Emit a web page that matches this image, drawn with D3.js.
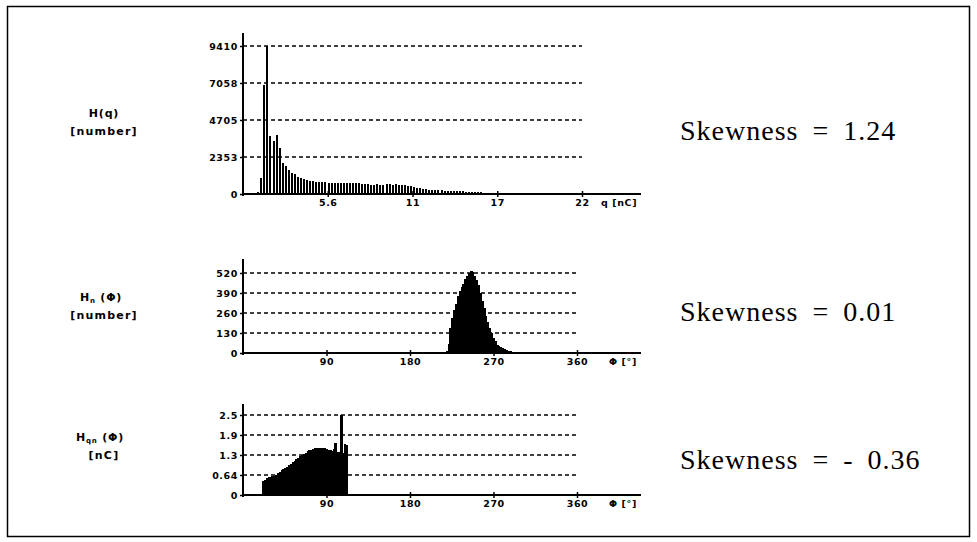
<!DOCTYPE html>
<html><head><meta charset="utf-8">
<script src="https://cdn.jsdelivr.net/npm/d3@7/dist/d3.min.js"></script>
<style>body{margin:0;background:#fff}svg{display:block}</style></head>
<body><svg id="c" width="977" height="542"></svg>
<script>
// ---- data ----
const qBinStart = 1.0, qBinStep = 0.2;
const qCounts = [120,1000,6900,9410,3700,3350,3750,2900,1950,1750,1500,1350,1250,1100,1000,950,880,850,800,780,
  760,750,740,700,690,720,700,680,700,690,710,700,720,690,650,640,620,600,580,610,
  600,590,620,640,600,620,580,600,560,540,480,440,400,360,330,300,280,260,250,240,
  230,220,210,200,190,180,170,160,150,140,130,120,110,100,90,80,70,60,50,40,
  30,25,20,15,12,10,10,8,8,6,6,5,5,4,4,3];
const qTickValues = [5.55,11.1,16.65,22.2];
const qTickLabels = ["5.6","11","17","22"];
const qYTickValues = [0,2352.5,4705,7057.5,9410];
const qYTickLabels = ["0","2353","4705","7058","9410"];

const nPhiBins = [218,220,222,224,226,228,230,232,234,236,238,240,242,244,246,248,250,252,254,256,258,260,262,264,266,268,270,272,274,276,278,280,282,284,286,288,290,292,294];
const nPhiCounts = [2,10,60,160,230,280,320,370,400,430,450,480,500,520,535,525,500,475,440,390,340,290,240,200,160,130,100,75,55,45,38,32,25,18,14,10,6,4,2];
const nYTickValues = [0,130,260,390,520];
const nYTickLabels = ["0","130","260","390","520"];

const qnPhiBins = [22,24,26,28,30,32,34,36,38,40,42,44,46,48,50,52,54,56,58,60,62,64,66,68,70,72,74,76,78,80,82,84,86,88,90,92,94,96,98,100,102,104,106,108,110,112];
const qnPhiValues = [0.45,0.48,0.52,0.55,0.57,0.58,0.59,0.63,0.68,0.73,0.77,0.81,0.85,0.89,0.93,0.97,1.02,1.07,1.12,1.17,1.21,1.25,1.28,1.32,1.36,1.40,1.42,1.44,1.46,1.47,1.48,1.48,1.47,1.46,1.44,1.42,1.40,1.38,1.45,1.62,1.35,1.33,2.5,1.32,1.58,1.55];
const qnYTickValues = [0,0.625,1.25,1.875,2.5];
const qnYTickLabels = ["0","0.64","1.3","1.9","2.5"];

const phiTickValues = [90,180,270,360];
const phiTickLabels = ["90","180","270","360"];
const skewValues = ["1.24","0.01","- 0.36"];

// ---- drawing ----
const svg = d3.select("#c");
svg.append("rect").attr("x",7.5).attr("y",6.5).attr("width",962).attr("height",530)
  .attr("fill","none").attr("stroke","#000").attr("stroke-width",1.5);

const tickFont = "bold 9.5px 'DejaVu Sans'";

function panel(o){
  const g = svg.append("g");
  const x = d3.scaleLinear().domain(o.xDomain).range([243, o.gridEnd]);
  const y = d3.scaleLinear().domain(o.yDomain).range([o.base, o.top]);
  // gridlines
  g.selectAll("line.grid").data(o.yTicks.slice(1)).join("line")
    .attr("x1",243).attr("x2",o.gridEnd).attr("y1",d=>y(d)).attr("y2",d=>y(d))
    .attr("stroke","#000").attr("stroke-width",1.5).attr("stroke-dasharray","4,3");
  // marks
  const bw = o.fill ? (x(o.bins[1])-x(o.bins[0]))+0.8 : o.barW;
  g.append("g").attr("shape-rendering","crispEdges").selectAll("rect").data(o.bins).join("rect")
    .attr("x",(d,i)=>x(d)-bw/2).attr("width",bw)
    .attr("y",(d,i)=>y(o.values[i])).attr("height",(d,i)=>o.base-y(o.values[i]))
    .attr("fill","#000");
  // y axis
  const ya = g.append("g").attr("transform","translate(243,0)")
    .call(d3.axisLeft(y).tickValues(o.yTicks).tickFormat((d,i)=>o.yLabels[i]).tickSize(3).tickPadding(2));
  ya.select(".domain").remove();
  ya.selectAll("text").style("font",tickFont).attr("fill","#000").attr("letter-spacing","0.6px");
  ya.selectAll("line").attr("stroke-width",1.5);
  g.append("line").attr("x1",243).attr("x2",243).attr("y1",o.axisTop).attr("y2",o.base+2)
    .attr("stroke","#000").attr("stroke-width",2);
  // x axis
  g.append("line").attr("x1",242).attr("x2",641).attr("y1",o.base).attr("y2",o.base)
    .attr("stroke","#000").attr("stroke-width",2);
  const xa = g.append("g").attr("transform",`translate(0,${o.base-3})`)
    .call(d3.axisBottom(x).tickValues(o.xTicks).tickFormat((d,i)=>o.xLabels[i]).tickSize(6).tickPadding(2));
  xa.select(".domain").remove();
  xa.selectAll("line").attr("stroke-width",1.5);
  xa.selectAll("text").style("font",tickFont).attr("fill","#000").attr("letter-spacing","0.6px");
  g.append("text").attr("x",o.unitX).attr("y",o.base+12).style("font",tickFont)
    .attr("letter-spacing","0.6px").text(o.unit);
  // left label
  const l1 = g.append("text").attr("x",o.labelX).attr("y",o.labelY).attr("text-anchor","middle")
    .style("font","bold 11px 'DejaVu Sans'").attr("letter-spacing","0.8px");
  l1.append("tspan").text("H");
  if(o.sub){ l1.append("tspan").attr("font-size","7px").attr("dy",2).text(o.sub);
    l1.append("tspan").attr("dy",-2).text("  (Φ)"); }
  else l1.append("tspan").text("(q)");
  g.append("text").attr("x",o.label2X).attr("y",o.labelY+18).attr("text-anchor","middle")
    .style("font","bold 11px 'DejaVu Sans'").attr("letter-spacing","1.2px").text(o.label2);
  // skewness
  g.append("text").attr("x",680).attr("y",o.skewY)
    .style("font","28px 'Liberation Serif'").attr("letter-spacing","1px").attr("word-spacing","6px")
    .text("Skewness = " + o.skew);
}

panel({xDomain:[0,22.2], gridEnd:582, yDomain:[0,9410], base:194, top:46, axisTop:33,
  yTicks:qYTickValues, yLabels:qYTickLabels, xTicks:qTickValues, xLabels:qTickLabels,
  bins:d3.range(qCounts.length).map(i=>qBinStart+i*qBinStep), values:qCounts, barW:2,
  unit:"q [nC]", unitX:601, labelX:104, labelY:117, label2:"[number]", label2X:104, skewY:140, skew:skewValues[0]});

panel({xDomain:[0,360], gridEnd:577, yDomain:[0,520], base:353, top:273, axisTop:259,
  yTicks:nYTickValues, yLabels:nYTickLabels, xTicks:phiTickValues, xLabels:phiTickLabels,
  bins:nPhiBins, values:nPhiCounts, fill:true,
  unit:"Φ [°]", unitX:609, labelX:101, labelY:301, sub:"n", label2:"[number]", label2X:104, skewY:321, skew:skewValues[1]});

panel({xDomain:[0,360], gridEnd:577, yDomain:[0,2.5], base:495, top:415, axisTop:404,
  yTicks:qnYTickValues, yLabels:qnYTickLabels, xTicks:phiTickValues, xLabels:phiTickLabels,
  bins:qnPhiBins, values:qnPhiValues, fill:true,
  unit:"Φ [°]", unitX:609, labelX:100, labelY:441, sub:"qn", label2:"[nC]", label2X:104, skewY:469, skew:skewValues[2]});
</script></body></html>
